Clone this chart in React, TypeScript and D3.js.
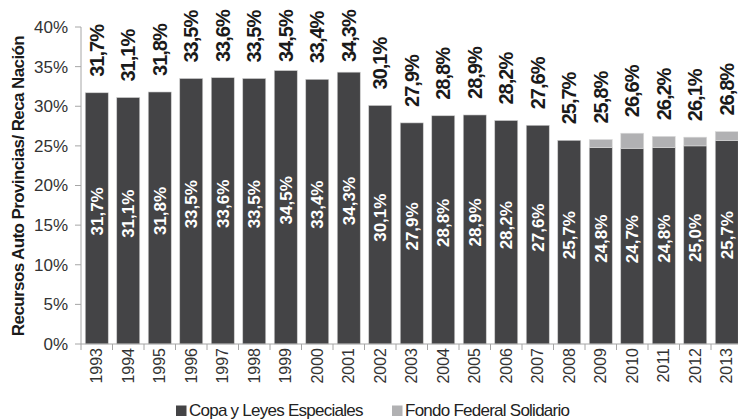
import * as d3 from "d3";

const years = ["1993", "1994", "1995", "1996", "1997", "1998", "1999", "2000", "2001", "2002", "2003", "2004", "2005", "2006", "2007", "2008", "2009", "2010", "2011", "2012", "2013"];
const copa = [31.7, 31.1, 31.8, 33.5, 33.6, 33.5, 34.5, 33.4, 34.3, 30.1, 27.9, 28.8, 28.9, 28.2, 27.6, 25.7, 24.8, 24.7, 24.8, 25.0, 25.7];
const fondo = [0, 0, 0, 0, 0, 0, 0, 0, 0, 0, 0, 0, 0, 0, 0, 0, 1.0, 1.9, 1.4, 1.1, 1.1];
const totals = [31.7, 31.1, 31.8, 33.5, 33.6, 33.5, 34.5, 33.4, 34.3, 30.1, 27.9, 28.8, 28.9, 28.2, 27.6, 25.7, 25.8, 26.6, 26.2, 26.1, 26.8];
const yTicks = [0, 5, 10, 15, 20, 25, 30, 35, 40];
const seriesNames = ["Copa y Leyes Especiales", "Fondo Federal Solidario"];

const DARK = "#444446";
const LIGHT = "#b1b1b3";
const AXIS = "#a6a6a6";

const fmt = (v: number) => v.toFixed(1).replace(".", ",") + "%";

export default function App() {
  const width = 738;
  const height = 419;
  const left = 81;
  const step = 31.5;

  const x = d3.scaleBand<string>()
    .domain(years)
    .range([left, left + step * years.length])
    .paddingInner(0.27)
    .paddingOuter(0.135);

  const y = d3.scaleLinear().domain([0, 40]).range([344, 27]);
  const bw = x.bandwidth();
  const font = "'Liberation Sans', Arial, sans-serif";

  return (
    <svg width={width} height={height} style={{ position: "absolute", left: 0, top: 0 }} fontFamily={font}>
      <rect width={width} height={height} fill="#ffffff" />

      {/* y axis */}
      <line x1={left} x2={left} y1={y(40)} y2={y(0)} stroke={AXIS} />
      {yTicks.map(t => (
        <g key={t}>
          <line x1={left - 6} x2={left} y1={y(t)} y2={y(t)} stroke={AXIS} />
          <text x={68} y={y(t)} dy="0.35em" textAnchor="end" fontSize={17} fill="#333">{t}%</text>
        </g>
      ))}

      {/* bars */}
      {years.map((yr, i) => {
        const bx = x(yr) as number;
        return (
          <g key={yr}>
            <rect x={bx} y={y(copa[i])} width={bw} height={y(0) - y(copa[i])} fill={DARK} stroke="#cfcfcf" strokeWidth={0.6} />
            {fondo[i] > 0 && (
              <rect x={bx} y={y(totals[i])} width={bw} height={y(copa[i]) - y(totals[i])} fill={LIGHT} stroke="#dcdcdc" strokeWidth={0.6} />
            )}
          </g>
        );
      })}

      {/* x axis */}
      <line x1={left} x2={x.range()[1]} y1={y(0)} y2={y(0)} stroke={AXIS} />
      {d3.range(years.length + 1).map(k => (
        <line key={k} x1={left + k * x.step()} x2={left + k * x.step()} y1={y(0)} y2={y(0) + 6} stroke={AXIS} />
      ))}
      {years.map(yr => {
        const cx = (x(yr) as number) + bw / 2;
        return (
          <text key={yr} transform={`translate(${cx},348) rotate(-90)`} dy="0.35em" textAnchor="end" fontSize={16} fill="#333">{yr}</text>
        );
      })}

      {/* inner labels */}
      {years.map((yr, i) => {
        const cx = (x(yr) as number) + bw / 2;
        const cy = (y(0) + y(copa[i])) / 2 - 7;
        return (
          <text key={yr} transform={`translate(${cx},${cy}) rotate(-90)`} dy="0.35em" textAnchor="middle" fontSize={17} fontWeight="bold" fill="#ffffff">{fmt(copa[i])}</text>
        );
      })}

      {/* top labels, kept inside the plot top */}
      {years.map((yr, i) => {
        const cx = (x(yr) as number) + bw / 2;
        const ly = Math.max(y(totals[i]) - 16, 62);
        return (
          <text key={yr} transform={`translate(${cx},${ly}) rotate(-90)`} dy="0.36em" textAnchor="start" fontSize={20} fontWeight="bold" letterSpacing={-1} fill="#1a1a1a">{fmt(totals[i])}</text>
        );
      })}

      {/* y title */}
      <text transform="translate(18.5,186) rotate(-90)" dy="0.35em" textAnchor="middle" fontSize={17} fontWeight="bold" letterSpacing={-0.6} fill="#1a1a1a">
        Recursos Auto Provincias/ Reca Nación
      </text>

      {/* legend */}
      <rect x={176} y={405.5} width={10.5} height={10.5} fill={DARK} />
      <text x={189} y={416} fontSize={17} letterSpacing={-0.75} fill="#222">{seriesNames[0]}</text>
      <rect x={392} y={405.5} width={10.5} height={10.5} fill={LIGHT} />
      <text x={405} y={416} fontSize={17} letterSpacing={-0.75} fill="#222">{seriesNames[1]}</text>
    </svg>
  );
}
